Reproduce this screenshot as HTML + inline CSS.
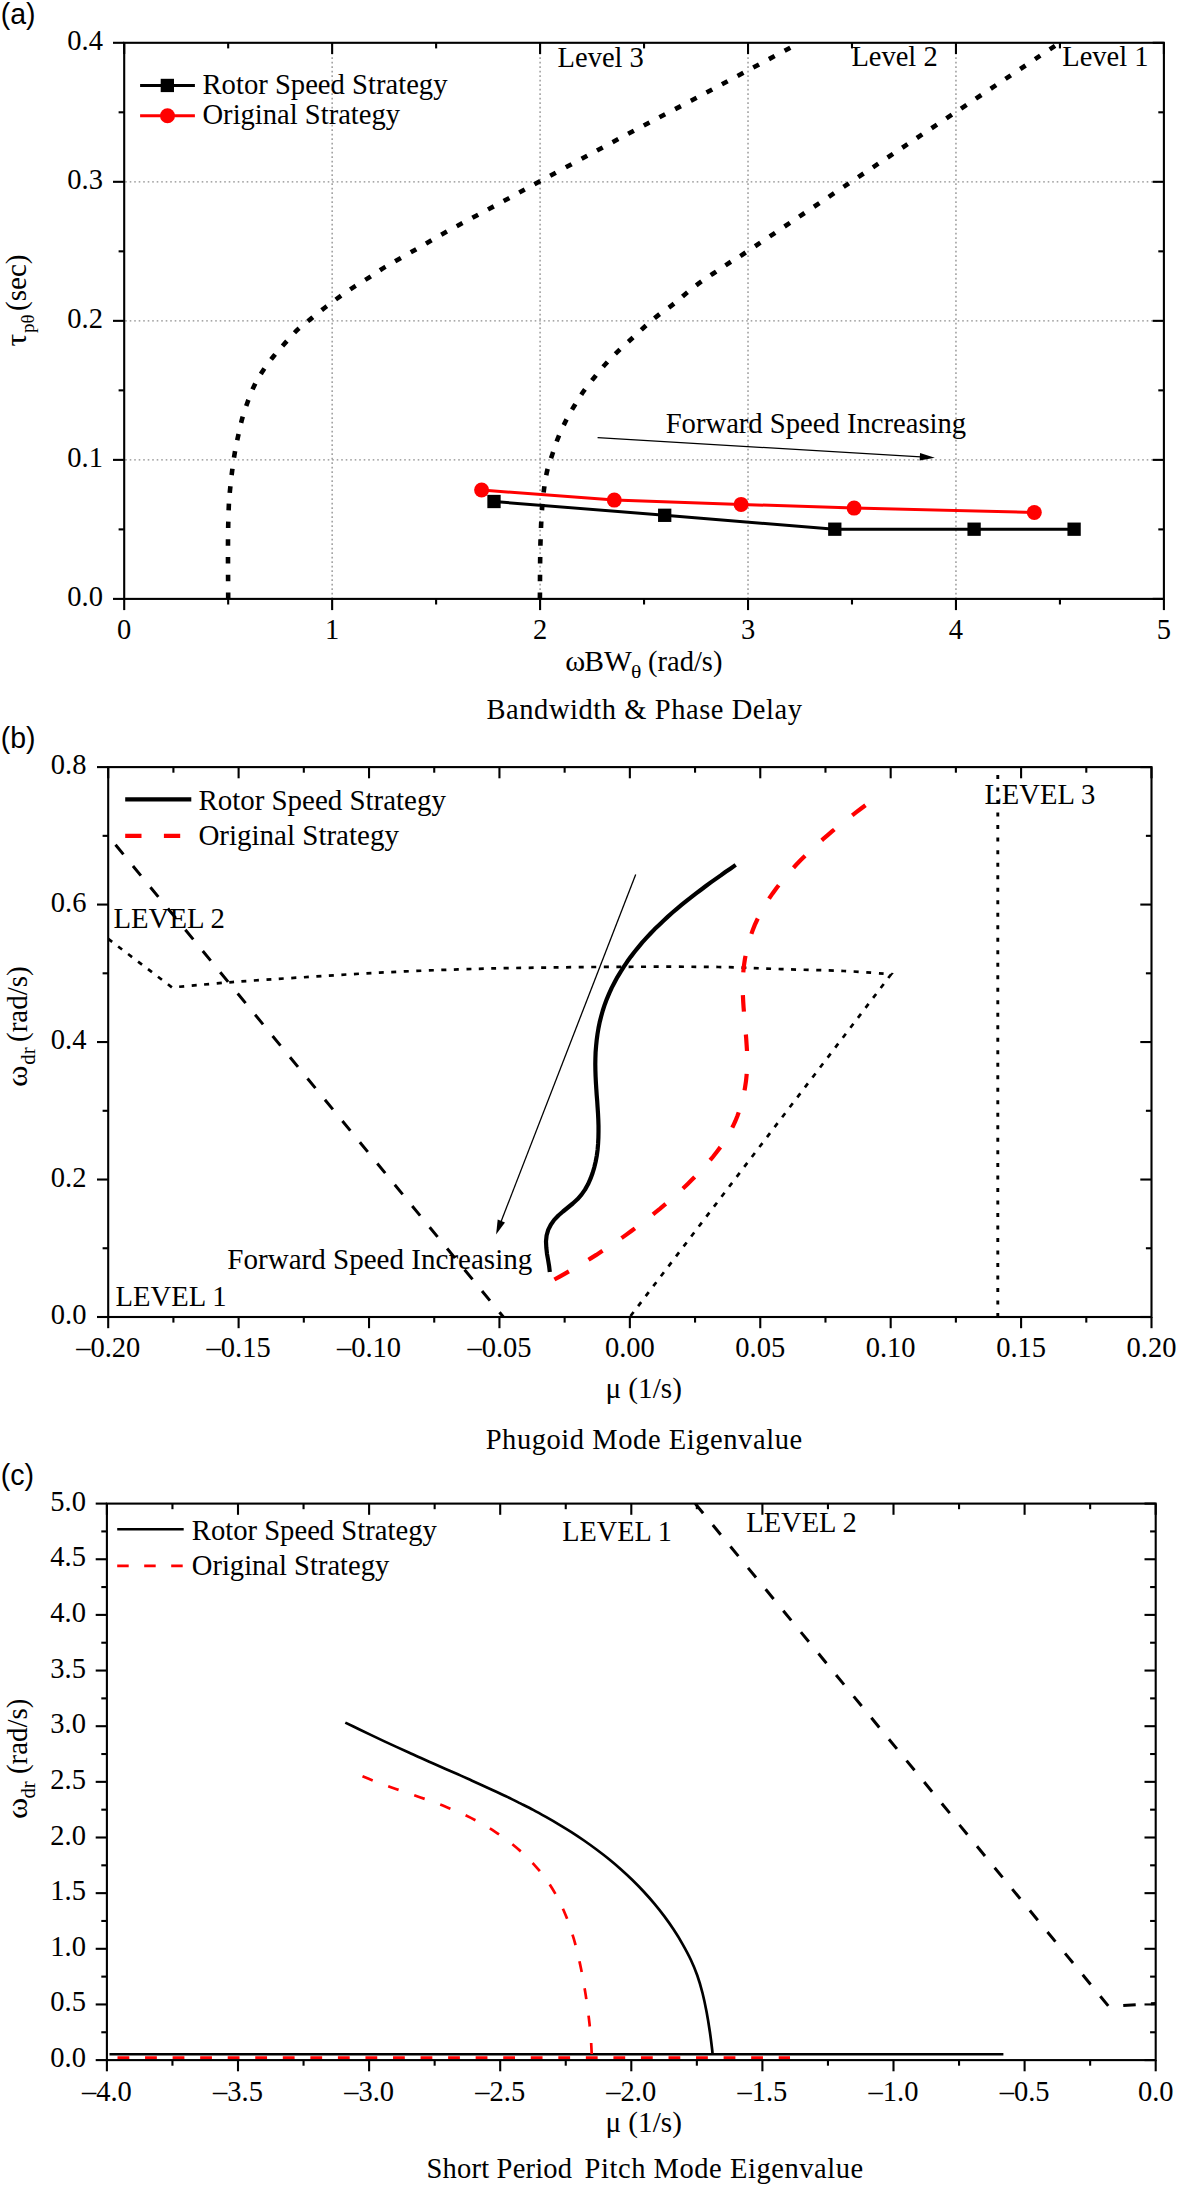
<!DOCTYPE html><html><head><meta charset="utf-8"><style>html,body{margin:0;padding:0;background:#fff;overflow:hidden;width:1179px;height:2188px;}svg{display:block;}</style></head><body>
<svg width="1179" height="2188" viewBox="0 0 1179 2188">
<rect width="1179" height="2188" fill="#fff"/>
<defs><clipPath id="ca"><rect x="124.2" y="42.8" width="1039.7" height="556.1"/></clipPath>
<clipPath id="cb"><rect x="108.2" y="767.1" width="1043.3" height="549.9"/></clipPath>
<clipPath id="cc"><rect x="106.9" y="1503.6" width="1048.8" height="556.5"/></clipPath></defs>
<line x1="332.14" y1="43.8" x2="332.14" y2="597.9" stroke="#8c8c8c" stroke-width="1.3" stroke-dasharray="1.6 2.9"/>
<line x1="540.08" y1="43.8" x2="540.08" y2="597.9" stroke="#8c8c8c" stroke-width="1.3" stroke-dasharray="1.6 2.9"/>
<line x1="748.02" y1="43.8" x2="748.02" y2="597.9" stroke="#8c8c8c" stroke-width="1.3" stroke-dasharray="1.6 2.9"/>
<line x1="955.96" y1="43.8" x2="955.96" y2="597.9" stroke="#8c8c8c" stroke-width="1.3" stroke-dasharray="1.6 2.9"/>
<line x1="125.2" y1="459.88" x2="1162.9" y2="459.88" stroke="#8c8c8c" stroke-width="1.3" stroke-dasharray="1.6 2.9"/>
<line x1="125.2" y1="320.85" x2="1162.9" y2="320.85" stroke="#8c8c8c" stroke-width="1.3" stroke-dasharray="1.6 2.9"/>
<line x1="125.2" y1="181.82" x2="1162.9" y2="181.82" stroke="#8c8c8c" stroke-width="1.3" stroke-dasharray="1.6 2.9"/>
<path d="M228.2 598.9 C228.17 589.38 227.9 557.27 228 541.8 C228.1 526.33 228.43 515.02 228.8 506.1 C229.17 497.18 229.63 494.23 230.2 488.3 C230.77 482.37 231.43 476.43 232.2 470.5 C232.97 464.57 233.8 458.5 234.8 452.7 C235.8 446.9 236.93 441.5 238.2 435.7 C239.47 429.9 240.77 423.68 242.4 417.9 C244.03 412.12 245.97 406.5 248 401 C250.03 395.5 252.08 390 254.6 384.9 C257.12 379.8 259.9 375.22 263.1 370.4 C266.3 365.58 270.03 360.67 273.8 356 C277.57 351.33 281.6 346.92 285.7 342.4 C289.8 337.88 294.02 332.98 298.4 328.9 C302.78 324.82 307.33 321.63 312 317.9 C316.67 314.17 321.65 310.13 326.4 306.5 C331.15 302.87 335.7 299.5 340.5 296.1 C345.3 292.7 350.2 289.35 355.2 286.1 C360.2 282.85 365.48 279.8 370.5 276.6 C375.52 273.4 377.73 271.43 385.3 266.9 C392.87 262.37 405.72 255.25 415.9 249.4 C426.08 243.55 436.1 237.53 446.4 231.8 C456.7 226.07 467.27 220.6 477.7 215 C488.13 209.4 498.7 203.78 509 198.2 C519.3 192.62 526 188.82 539.5 181.5 C553 174.18 573.25 163.3 590 154.3 C606.75 145.3 623.17 136.42 640 127.5 C656.83 118.58 673.92 109.83 691 100.8 C708.08 91.77 724.33 83.02 742.5 73.3 C760.67 63.58 790.42 47.63 800 42.5" fill="none" stroke="#000" stroke-width="4.6" stroke-dasharray="6.5 11.2" clip-path="url(#ca)"/>
<path d="M539.9 598.9 C539.98 589.95 539.98 560.93 540.4 545.2 C540.82 529.47 541.38 516.38 542.4 504.5 C543.42 492.62 544.8 482.38 546.5 473.9 C548.2 465.42 550.57 459.87 552.6 453.6 C554.63 447.33 556.33 442.07 558.7 436.3 C561.07 430.53 564.08 424.27 566.8 419 C569.52 413.73 572.12 409.45 575 404.7 C577.88 399.95 580.72 395.25 584.1 390.5 C587.48 385.75 591.57 380.78 595.3 376.2 C599.03 371.62 602.43 367.42 606.5 363 C610.57 358.58 615.28 353.95 619.7 349.7 C624.12 345.45 628.75 341.4 633 337.5 C637.25 333.6 640.97 330.03 645.2 326.3 C649.43 322.57 653.65 318.83 658.4 315.1 C663.15 311.37 668.95 307.63 673.7 303.9 C678.45 300.17 682.32 296.42 686.9 292.7 C691.48 288.98 696.28 285.15 701.2 281.6 C706.12 278.05 711.32 274.8 716.4 271.4 C721.48 268 726.52 264.55 731.7 261.2 C736.88 257.85 727.78 264.4 747.5 251.3 C767.22 238.2 815.9 205.4 850 182.6 C884.1 159.8 917.1 137.85 952.1 114.5 C987.1 91.15 1042.02 54.5 1060 42.5" fill="none" stroke="#000" stroke-width="4.6" stroke-dasharray="6.5 11.2" clip-path="url(#ca)"/>
<path d="M494 501.5 L664.7 515.3 L834.8 529.2 L974.1 529.2 L1074.1 529.2" fill="none" stroke="#000" stroke-width="3"/>
<path d="M481.6 490 L614.3 500.1 L741.1 504.4 L854.1 508.1 L1034.3 512.5" fill="none" stroke="#ff0000" stroke-width="3"/>
<rect x="487.35" y="494.85" width="13.3" height="13.3" fill="#000"/>
<rect x="658.05" y="508.65" width="13.3" height="13.3" fill="#000"/>
<rect x="828.15" y="522.55" width="13.3" height="13.3" fill="#000"/>
<rect x="967.45" y="522.55" width="13.3" height="13.3" fill="#000"/>
<rect x="1067.45" y="522.55" width="13.3" height="13.3" fill="#000"/>
<circle cx="481.6" cy="490" r="7.5" fill="#ff0000"/>
<circle cx="614.3" cy="500.1" r="7.5" fill="#ff0000"/>
<circle cx="741.1" cy="504.4" r="7.5" fill="#ff0000"/>
<circle cx="854.1" cy="508.1" r="7.5" fill="#ff0000"/>
<circle cx="1034.3" cy="512.5" r="7.5" fill="#ff0000"/>
<line x1="597.6" y1="437.7" x2="925" y2="457.1" stroke="#000" stroke-width="1.3" />
<path d="M934.8 457.7 L919.6 460.61 L920.05 453.02 Z" fill="#000"/>
<line x1="124.2" y1="598.9" x2="124.2" y2="610.1" stroke="#000" stroke-width="2.1" />
<line x1="124.2" y1="42.8" x2="124.2" y2="54" stroke="#000" stroke-width="2.1" />
<line x1="228.17" y1="598.9" x2="228.17" y2="604.5" stroke="#000" stroke-width="2.1" />
<line x1="228.17" y1="42.8" x2="228.17" y2="48.4" stroke="#000" stroke-width="2.1" />
<line x1="332.14" y1="598.9" x2="332.14" y2="610.1" stroke="#000" stroke-width="2.1" />
<line x1="332.14" y1="42.8" x2="332.14" y2="54" stroke="#000" stroke-width="2.1" />
<line x1="436.11" y1="598.9" x2="436.11" y2="604.5" stroke="#000" stroke-width="2.1" />
<line x1="436.11" y1="42.8" x2="436.11" y2="48.4" stroke="#000" stroke-width="2.1" />
<line x1="540.08" y1="598.9" x2="540.08" y2="610.1" stroke="#000" stroke-width="2.1" />
<line x1="540.08" y1="42.8" x2="540.08" y2="54" stroke="#000" stroke-width="2.1" />
<line x1="644.05" y1="598.9" x2="644.05" y2="604.5" stroke="#000" stroke-width="2.1" />
<line x1="644.05" y1="42.8" x2="644.05" y2="48.4" stroke="#000" stroke-width="2.1" />
<line x1="748.02" y1="598.9" x2="748.02" y2="610.1" stroke="#000" stroke-width="2.1" />
<line x1="748.02" y1="42.8" x2="748.02" y2="54" stroke="#000" stroke-width="2.1" />
<line x1="851.99" y1="598.9" x2="851.99" y2="604.5" stroke="#000" stroke-width="2.1" />
<line x1="851.99" y1="42.8" x2="851.99" y2="48.4" stroke="#000" stroke-width="2.1" />
<line x1="955.96" y1="598.9" x2="955.96" y2="610.1" stroke="#000" stroke-width="2.1" />
<line x1="955.96" y1="42.8" x2="955.96" y2="54" stroke="#000" stroke-width="2.1" />
<line x1="1059.93" y1="598.9" x2="1059.93" y2="604.5" stroke="#000" stroke-width="2.1" />
<line x1="1059.93" y1="42.8" x2="1059.93" y2="48.4" stroke="#000" stroke-width="2.1" />
<line x1="1163.9" y1="598.9" x2="1163.9" y2="610.1" stroke="#000" stroke-width="2.1" />
<line x1="1163.9" y1="42.8" x2="1163.9" y2="54" stroke="#000" stroke-width="2.1" />
<line x1="113" y1="598.9" x2="124.2" y2="598.9" stroke="#000" stroke-width="2.1" />
<line x1="1152.7" y1="598.9" x2="1163.9" y2="598.9" stroke="#000" stroke-width="2.1" />
<line x1="118.6" y1="529.39" x2="124.2" y2="529.39" stroke="#000" stroke-width="2.1" />
<line x1="1158.3" y1="529.39" x2="1163.9" y2="529.39" stroke="#000" stroke-width="2.1" />
<line x1="113" y1="459.88" x2="124.2" y2="459.88" stroke="#000" stroke-width="2.1" />
<line x1="1152.7" y1="459.88" x2="1163.9" y2="459.88" stroke="#000" stroke-width="2.1" />
<line x1="118.6" y1="390.36" x2="124.2" y2="390.36" stroke="#000" stroke-width="2.1" />
<line x1="1158.3" y1="390.36" x2="1163.9" y2="390.36" stroke="#000" stroke-width="2.1" />
<line x1="113" y1="320.85" x2="124.2" y2="320.85" stroke="#000" stroke-width="2.1" />
<line x1="1152.7" y1="320.85" x2="1163.9" y2="320.85" stroke="#000" stroke-width="2.1" />
<line x1="118.6" y1="251.34" x2="124.2" y2="251.34" stroke="#000" stroke-width="2.1" />
<line x1="1158.3" y1="251.34" x2="1163.9" y2="251.34" stroke="#000" stroke-width="2.1" />
<line x1="113" y1="181.82" x2="124.2" y2="181.82" stroke="#000" stroke-width="2.1" />
<line x1="1152.7" y1="181.82" x2="1163.9" y2="181.82" stroke="#000" stroke-width="2.1" />
<line x1="118.6" y1="112.31" x2="124.2" y2="112.31" stroke="#000" stroke-width="2.1" />
<line x1="1158.3" y1="112.31" x2="1163.9" y2="112.31" stroke="#000" stroke-width="2.1" />
<line x1="113" y1="42.8" x2="124.2" y2="42.8" stroke="#000" stroke-width="2.1" />
<line x1="1152.7" y1="42.8" x2="1163.9" y2="42.8" stroke="#000" stroke-width="2.1" />
<rect x="124.2" y="42.8" width="1039.7" height="556.1" fill="none" stroke="#000" stroke-width="2.1"/>
<text x="124.2" y="638.6" font-size="28.5" text-anchor="middle" font-family='"Liberation Serif", serif' >0</text>
<text x="332.14" y="638.6" font-size="28.5" text-anchor="middle" font-family='"Liberation Serif", serif' >1</text>
<text x="540.08" y="638.6" font-size="28.5" text-anchor="middle" font-family='"Liberation Serif", serif' >2</text>
<text x="748.02" y="638.6" font-size="28.5" text-anchor="middle" font-family='"Liberation Serif", serif' >3</text>
<text x="955.96" y="638.6" font-size="28.5" text-anchor="middle" font-family='"Liberation Serif", serif' >4</text>
<text x="1163.9" y="638.6" font-size="28.5" text-anchor="middle" font-family='"Liberation Serif", serif' >5</text>
<text x="102.9" y="605.9" font-size="28.5" text-anchor="end" font-family='"Liberation Serif", serif' >0.0</text>
<text x="102.9" y="466.88" font-size="28.5" text-anchor="end" font-family='"Liberation Serif", serif' >0.1</text>
<text x="102.9" y="327.85" font-size="28.5" text-anchor="end" font-family='"Liberation Serif", serif' >0.2</text>
<text x="102.9" y="188.82" font-size="28.5" text-anchor="end" font-family='"Liberation Serif", serif' >0.3</text>
<text x="102.9" y="49.8" font-size="28.5" text-anchor="end" font-family='"Liberation Serif", serif' >0.4</text>
<line x1="140.1" y1="85.5" x2="194.9" y2="85.5" stroke="#000" stroke-width="3" />
<rect x="160.7" y="78.8" width="13.3" height="13.3" fill="#000"/>
<line x1="140.1" y1="115.8" x2="194.9" y2="115.8" stroke="#ff0000" stroke-width="3" />
<circle cx="167.5" cy="115.7" r="7.5" fill="#ff0000"/>
<text x="202.5" y="93.6" font-size="28.5" text-anchor="start" font-family='"Liberation Serif", serif' textLength="245" lengthAdjust="spacingAndGlyphs" >Rotor Speed Strategy</text>
<text x="202.5" y="124.3" font-size="28.5" text-anchor="start" font-family='"Liberation Serif", serif' textLength="197.5" lengthAdjust="spacingAndGlyphs" >Original Strategy</text>
<text x="557.6" y="67.3" font-size="28.5" text-anchor="start" font-family='"Liberation Serif", serif' >Level 3</text>
<text x="851.4" y="66.4" font-size="28.5" text-anchor="start" font-family='"Liberation Serif", serif' >Level 2</text>
<text x="1062.3" y="66.4" font-size="28.5" text-anchor="start" font-family='"Liberation Serif", serif' >Level 1</text>
<text x="665.7" y="432.9" font-size="28.5" text-anchor="start" font-family='"Liberation Serif", serif' textLength="300.5" lengthAdjust="spacingAndGlyphs" >Forward Speed Increasing</text>
<text x="565.3" y="670.8" font-size="28.5" text-anchor="start" font-family='"Liberation Serif", serif' textLength="20" lengthAdjust="spacingAndGlyphs" >&#969;</text>
<text x="584.3" y="670.8" font-size="28.5" text-anchor="start" font-family='"Liberation Serif", serif' textLength="47.6" lengthAdjust="spacingAndGlyphs" >BW</text>
<text x="631" y="677.6" font-size="19.5" text-anchor="start" font-family='"Liberation Serif", serif' textLength="10.4" lengthAdjust="spacingAndGlyphs" >&#952;</text>
<text x="648" y="670.8" font-size="28.5" text-anchor="start" font-family='"Liberation Serif", serif' textLength="74.4" lengthAdjust="spacingAndGlyphs" >(rad/s)</text>
<text x="486.5" y="718.8" font-size="28.5" text-anchor="start" font-family='"Liberation Serif", serif' textLength="315.5" lengthAdjust="spacing" >Bandwidth &amp; Phase Delay</text>
<g transform="translate(26.3 346.5) rotate(-90)">
<text x="0" y="0" font-size="29.5" font-family='"Liberation Serif", serif' textLength="12.6" lengthAdjust="spacingAndGlyphs">&#964;</text>
<text x="13.6" y="7.7" font-size="19.5" font-family='"Liberation Serif", serif' textLength="18.6" lengthAdjust="spacingAndGlyphs">p&#952;</text>
<text x="35.6" y="0" font-size="29.5" font-family='"Liberation Serif", serif' textLength="56.4" lengthAdjust="spacingAndGlyphs">(sec)</text>
</g>
<text x="0.8" y="23.6" font-size="29" text-anchor="start" font-family='"Liberation Sans", sans-serif' textLength="34.8" lengthAdjust="spacingAndGlyphs" >(a)</text>
<path d="M108.2 835.8 L503.4 1317" fill="none" stroke="#000" stroke-width="3" stroke-dasharray="12.5 15" stroke-dashoffset="-11.5" clip-path="url(#cb)"/>
<path d="M108.2 938.9 L172 987.4  C182.03 986.52 210.67 983.77 232.2 982.1 C253.73 980.43 276.62 978.98 301.2 977.4 C325.78 975.82 353.55 973.93 379.7 972.6 C405.85 971.27 433.52 970.2 458.1 969.4 C482.68 968.6 499.53 968.23 527.2 967.8 C554.87 967.37 592.25 966.93 624.1 966.8 C655.95 966.67 692.15 966.62 718.3 967 C744.45 967.38 760.08 968.43 781 969.1 C801.92 969.77 825.43 970.15 843.8 971 C862.17 971.85 883.3 973.67 891.2 974.2 L629.8 1317" fill="none" stroke="#000" stroke-width="2.7" stroke-dasharray="5 7.5" clip-path="url(#cb)"/>
<path d="M997.8 1317 L997.8 767.1" fill="none" stroke="#000" stroke-width="2.9" stroke-dasharray="4 8.51" clip-path="url(#cb)"/>
<path d="M549.8 1271.9 L549.1 1266.1 L548.1 1260 L547 1253.8 L546.3 1247.5 L546 1241.4 L546.6 1235.5 L548.2 1229.9 L550.8 1224.7 L554.2 1219.9 L558.4 1215.5 L563 1211.5 L567.9 1207.5 L572.8 1203.5 L577.4 1199.3 L581.5 1194.6 L585 1189.6 L588 1184.3 L590.5 1178.7 L592.6 1173 L594.3 1167.3 L595.7 1161.5 L596.8 1155.6 L597.6 1149.7 L598.1 1143.7 L598.4 1137.7 L598.5 1131.7 L598.5 1125.6 L598.3 1119.5 L598 1113.4 L597.6 1107.3 L597.2 1101.1 L596.7 1095 L596.3 1088.8 L595.9 1082.7 L595.6 1076.5 L595.4 1070.4 L595.3 1064.3 L595.4 1058.2 L595.6 1052.1 L596.1 1046 L596.7 1040 L597.5 1034 L598.5 1028 L599.7 1022.1 L601.2 1016.3 L602.8 1010.5 L604.7 1004.7 L606.8 999.1 L609.2 993.4 L611.7 987.9 L614.5 982.5 L617.4 977.1 L620.6 971.8 L623.9 966.7 L627.3 961.6 L630.9 956.6 L634.6 951.8 L638.4 947.1 L642.3 942.4 L646.4 937.9 L650.5 933.5 L654.7 929.1 L659.1 924.9 L663.5 920.7 L667.9 916.6 L672.5 912.5 L677.1 908.6 L681.8 904.7 L686.5 900.9 L691.3 897.1 L696.1 893.4 L701 889.7 L705.9 886 L710.8 882.4 L715.8 878.9 L720.8 875.4 L725.7 871.8 L730.7 868.4 L735.7 864.9" fill="none" stroke="#000" stroke-width="4.2" stroke-linejoin="round"/>
<path d="M554.4 1279.5 L559.7 1276.6 L565 1273.6 L570.3 1270.6 L575.6 1267.5 L580.8 1264.4 L586 1261.3 L591.1 1258.1 L596.3 1254.9 L601.4 1251.6 L606.4 1248.3 L611.5 1244.9 L616.5 1241.5 L621.5 1238.1 L626.4 1234.6 L631.3 1231 L636.2 1227.4 L641.1 1223.8 L645.9 1220 L650.7 1216.3 L655.4 1212.4 L660.1 1208.6 L664.8 1204.6 L669.5 1200.6 L674.1 1196.5 L678.6 1192.4 L683.2 1188.2 L687.7 1183.9 L692.1 1179.6 L696.5 1175.2 L700.8 1170.7 L705 1166.2 L709 1161.5 L713 1156.8 L716.7 1152 L720.4 1147.1 L723.8 1142.1 L727 1137 L730 1131.9 L732.8 1126.6 L735.3 1121.2 L737.5 1115.7 L739.5 1110.1 L741.3 1104.5 L742.8 1098.7 L744.1 1092.9 L745.1 1087.1 L746 1081.1 L746.6 1075.1 L747 1069.1 L747.2 1063.1 L747.1 1057 L747 1050.8 L746.6 1044.7 L746.2 1038.6 L745.7 1032.4 L745.2 1026.2 L744.6 1020 L744.1 1013.9 L743.6 1007.7 L743.2 1001.5 L742.9 995.4 L742.7 989.3 L742.7 983.2 L742.9 977.2 L743.4 971.1 L744 965.2 L744.9 959.2 L746 953.4 L747.3 947.5 L748.9 941.8 L750.6 936.1 L752.6 930.5 L754.8 924.9 L757.3 919.5 L760 914.1 L762.8 908.8 L765.9 903.6 L769.2 898.4 L772.6 893.4 L776.2 888.4 L780 883.5 L783.9 878.7 L787.9 874 L792 869.4 L796.2 864.8 L800.5 860.3 L804.9 856 L809.4 851.6 L813.9 847.4 L818.4 843.2 L823 839.2 L827.7 835.1 L832.3 831.2 L837 827.3 L841.8 823.5 L846.5 819.8 L851.2 816.1 L856 812.4 L860.8 808.8 L865.5 805.3" fill="none" stroke="#ff0000" stroke-width="4.2" stroke-dasharray="16.6 22.84"/>
<line x1="635.7" y1="874.4" x2="500.6" y2="1222.8" stroke="#000" stroke-width="1.3" />
<path d="M496.1 1234.5 L497.7 1219.57 L504.98 1222.39 Z" fill="#000"/>
<line x1="108.2" y1="1317" x2="108.2" y2="1328.2" stroke="#000" stroke-width="2.1" />
<line x1="108.2" y1="767.1" x2="108.2" y2="778.3" stroke="#000" stroke-width="2.1" />
<line x1="173.41" y1="1317" x2="173.41" y2="1322.6" stroke="#000" stroke-width="2.1" />
<line x1="173.41" y1="767.1" x2="173.41" y2="772.7" stroke="#000" stroke-width="2.1" />
<line x1="238.61" y1="1317" x2="238.61" y2="1328.2" stroke="#000" stroke-width="2.1" />
<line x1="238.61" y1="767.1" x2="238.61" y2="778.3" stroke="#000" stroke-width="2.1" />
<line x1="303.82" y1="1317" x2="303.82" y2="1322.6" stroke="#000" stroke-width="2.1" />
<line x1="303.82" y1="767.1" x2="303.82" y2="772.7" stroke="#000" stroke-width="2.1" />
<line x1="369.02" y1="1317" x2="369.02" y2="1328.2" stroke="#000" stroke-width="2.1" />
<line x1="369.02" y1="767.1" x2="369.02" y2="778.3" stroke="#000" stroke-width="2.1" />
<line x1="434.23" y1="1317" x2="434.23" y2="1322.6" stroke="#000" stroke-width="2.1" />
<line x1="434.23" y1="767.1" x2="434.23" y2="772.7" stroke="#000" stroke-width="2.1" />
<line x1="499.44" y1="1317" x2="499.44" y2="1328.2" stroke="#000" stroke-width="2.1" />
<line x1="499.44" y1="767.1" x2="499.44" y2="778.3" stroke="#000" stroke-width="2.1" />
<line x1="564.64" y1="1317" x2="564.64" y2="1322.6" stroke="#000" stroke-width="2.1" />
<line x1="564.64" y1="767.1" x2="564.64" y2="772.7" stroke="#000" stroke-width="2.1" />
<line x1="629.85" y1="1317" x2="629.85" y2="1328.2" stroke="#000" stroke-width="2.1" />
<line x1="629.85" y1="767.1" x2="629.85" y2="778.3" stroke="#000" stroke-width="2.1" />
<line x1="695.06" y1="1317" x2="695.06" y2="1322.6" stroke="#000" stroke-width="2.1" />
<line x1="695.06" y1="767.1" x2="695.06" y2="772.7" stroke="#000" stroke-width="2.1" />
<line x1="760.26" y1="1317" x2="760.26" y2="1328.2" stroke="#000" stroke-width="2.1" />
<line x1="760.26" y1="767.1" x2="760.26" y2="778.3" stroke="#000" stroke-width="2.1" />
<line x1="825.47" y1="1317" x2="825.47" y2="1322.6" stroke="#000" stroke-width="2.1" />
<line x1="825.47" y1="767.1" x2="825.47" y2="772.7" stroke="#000" stroke-width="2.1" />
<line x1="890.68" y1="1317" x2="890.68" y2="1328.2" stroke="#000" stroke-width="2.1" />
<line x1="890.68" y1="767.1" x2="890.68" y2="778.3" stroke="#000" stroke-width="2.1" />
<line x1="955.88" y1="1317" x2="955.88" y2="1322.6" stroke="#000" stroke-width="2.1" />
<line x1="955.88" y1="767.1" x2="955.88" y2="772.7" stroke="#000" stroke-width="2.1" />
<line x1="1021.09" y1="1317" x2="1021.09" y2="1328.2" stroke="#000" stroke-width="2.1" />
<line x1="1021.09" y1="767.1" x2="1021.09" y2="778.3" stroke="#000" stroke-width="2.1" />
<line x1="1086.29" y1="1317" x2="1086.29" y2="1322.6" stroke="#000" stroke-width="2.1" />
<line x1="1086.29" y1="767.1" x2="1086.29" y2="772.7" stroke="#000" stroke-width="2.1" />
<line x1="1151.5" y1="1317" x2="1151.5" y2="1328.2" stroke="#000" stroke-width="2.1" />
<line x1="1151.5" y1="767.1" x2="1151.5" y2="778.3" stroke="#000" stroke-width="2.1" />
<line x1="97" y1="1317" x2="108.2" y2="1317" stroke="#000" stroke-width="2.1" />
<line x1="1140.3" y1="1317" x2="1151.5" y2="1317" stroke="#000" stroke-width="2.1" />
<line x1="102.6" y1="1248.26" x2="108.2" y2="1248.26" stroke="#000" stroke-width="2.1" />
<line x1="1145.9" y1="1248.26" x2="1151.5" y2="1248.26" stroke="#000" stroke-width="2.1" />
<line x1="97" y1="1179.53" x2="108.2" y2="1179.53" stroke="#000" stroke-width="2.1" />
<line x1="1140.3" y1="1179.53" x2="1151.5" y2="1179.53" stroke="#000" stroke-width="2.1" />
<line x1="102.6" y1="1110.79" x2="108.2" y2="1110.79" stroke="#000" stroke-width="2.1" />
<line x1="1145.9" y1="1110.79" x2="1151.5" y2="1110.79" stroke="#000" stroke-width="2.1" />
<line x1="97" y1="1042.05" x2="108.2" y2="1042.05" stroke="#000" stroke-width="2.1" />
<line x1="1140.3" y1="1042.05" x2="1151.5" y2="1042.05" stroke="#000" stroke-width="2.1" />
<line x1="102.6" y1="973.31" x2="108.2" y2="973.31" stroke="#000" stroke-width="2.1" />
<line x1="1145.9" y1="973.31" x2="1151.5" y2="973.31" stroke="#000" stroke-width="2.1" />
<line x1="97" y1="904.57" x2="108.2" y2="904.57" stroke="#000" stroke-width="2.1" />
<line x1="1140.3" y1="904.57" x2="1151.5" y2="904.57" stroke="#000" stroke-width="2.1" />
<line x1="102.6" y1="835.84" x2="108.2" y2="835.84" stroke="#000" stroke-width="2.1" />
<line x1="1145.9" y1="835.84" x2="1151.5" y2="835.84" stroke="#000" stroke-width="2.1" />
<line x1="97" y1="767.1" x2="108.2" y2="767.1" stroke="#000" stroke-width="2.1" />
<line x1="1140.3" y1="767.1" x2="1151.5" y2="767.1" stroke="#000" stroke-width="2.1" />
<rect x="108.2" y="767.1" width="1043.3" height="549.9" fill="none" stroke="#000" stroke-width="2.1"/>
<text x="108.2" y="1356.7" font-size="28.5" text-anchor="middle" font-family='"Liberation Serif", serif' >&#8211;0.20</text>
<text x="238.61" y="1356.7" font-size="28.5" text-anchor="middle" font-family='"Liberation Serif", serif' >&#8211;0.15</text>
<text x="369.02" y="1356.7" font-size="28.5" text-anchor="middle" font-family='"Liberation Serif", serif' >&#8211;0.10</text>
<text x="499.44" y="1356.7" font-size="28.5" text-anchor="middle" font-family='"Liberation Serif", serif' >&#8211;0.05</text>
<text x="629.85" y="1356.7" font-size="28.5" text-anchor="middle" font-family='"Liberation Serif", serif' >0.00</text>
<text x="760.26" y="1356.7" font-size="28.5" text-anchor="middle" font-family='"Liberation Serif", serif' >0.05</text>
<text x="890.68" y="1356.7" font-size="28.5" text-anchor="middle" font-family='"Liberation Serif", serif' >0.10</text>
<text x="1021.09" y="1356.7" font-size="28.5" text-anchor="middle" font-family='"Liberation Serif", serif' >0.15</text>
<text x="1151.5" y="1356.7" font-size="28.5" text-anchor="middle" font-family='"Liberation Serif", serif' >0.20</text>
<text x="86.4" y="1324" font-size="28.5" text-anchor="end" font-family='"Liberation Serif", serif' >0.0</text>
<text x="86.4" y="1186.53" font-size="28.5" text-anchor="end" font-family='"Liberation Serif", serif' >0.2</text>
<text x="86.4" y="1049.05" font-size="28.5" text-anchor="end" font-family='"Liberation Serif", serif' >0.4</text>
<text x="86.4" y="911.58" font-size="28.5" text-anchor="end" font-family='"Liberation Serif", serif' >0.6</text>
<text x="86.4" y="774.1" font-size="28.5" text-anchor="end" font-family='"Liberation Serif", serif' >0.8</text>
<line x1="125.2" y1="799.3" x2="191.3" y2="799.3" stroke="#000" stroke-width="4.2" />
<line x1="125.2" y1="835.9" x2="191.3" y2="835.9" stroke="#ff0000" stroke-width="4.2" stroke-dasharray="16.3 22.4"/>
<text x="198.4" y="809.8" font-size="28.8" text-anchor="start" font-family='"Liberation Serif", serif' textLength="247.5" lengthAdjust="spacingAndGlyphs" >Rotor Speed Strategy</text>
<text x="198.4" y="845.3" font-size="28.8" text-anchor="start" font-family='"Liberation Serif", serif' textLength="200.5" lengthAdjust="spacingAndGlyphs" >Original Strategy</text>
<text x="113.5" y="928.3" font-size="28.5" text-anchor="start" font-family='"Liberation Serif", serif' textLength="111.5" lengthAdjust="spacingAndGlyphs" >LEVEL 2</text>
<text x="984.4" y="803.9" font-size="28.5" text-anchor="start" font-family='"Liberation Serif", serif' textLength="111" lengthAdjust="spacingAndGlyphs" >LEVEL 3</text>
<text x="115.6" y="1306.1" font-size="28.5" text-anchor="start" font-family='"Liberation Serif", serif' textLength="111" lengthAdjust="spacingAndGlyphs" >LEVEL 1</text>
<text x="227.3" y="1269" font-size="28.5" text-anchor="start" font-family='"Liberation Serif", serif' textLength="305" lengthAdjust="spacingAndGlyphs" >Forward Speed Increasing</text>
<text x="605.4" y="1397.5" font-size="28.5" text-anchor="start" font-family='"Liberation Serif", serif' textLength="76.5" lengthAdjust="spacingAndGlyphs" >&#956; (1/s)</text>
<text x="485.7" y="1449.4" font-size="28.5" text-anchor="start" font-family='"Liberation Serif", serif' textLength="316.4" lengthAdjust="spacing" >Phugoid Mode Eigenvalue</text>
<g transform="translate(26.6 1087) rotate(-90)">
<text x="0" y="0" font-size="29" font-family='"Liberation Serif", serif' textLength="21.6" lengthAdjust="spacingAndGlyphs">&#969;</text>
<text x="22.3" y="8.4" font-size="20.5" font-family='"Liberation Serif", serif' textLength="17.4" lengthAdjust="spacingAndGlyphs">dr</text>
<text x="45" y="0" font-size="29" font-family='"Liberation Serif", serif' textLength="75.6" lengthAdjust="spacingAndGlyphs">(rad/s)</text>
</g>
<text x="0.8" y="747.9" font-size="29" text-anchor="start" font-family='"Liberation Sans", sans-serif' textLength="34.8" lengthAdjust="spacingAndGlyphs" >(b)</text>
<path d="M695.2 1503.6 L1108.6 2006.3 L1155.7 2003.5" fill="none" stroke="#000" stroke-width="3" stroke-dasharray="12.5 15.23" clip-path="url(#cc)"/>
<line x1="109.5" y1="2054.3" x2="1003.4" y2="2054.3" stroke="#000" stroke-width="2.5" />
<path d="M117.5 2057.7 L790 2057.7" fill="none" stroke="#ff0000" stroke-width="2.7" stroke-dasharray="11.8 15.75"/>
<path d="M345.3 1722.6 C347.5 1723.67 354.17 1726.92 358.5 1729 C362.83 1731.08 367.07 1733.08 371.3 1735.1 C375.53 1737.12 379.72 1739.13 383.9 1741.1 C388.08 1743.07 392.25 1745 396.4 1746.9 C400.55 1748.8 404.7 1750.63 408.8 1752.5 C412.9 1754.37 416.92 1756.27 421 1758.1 C425.08 1759.93 429.2 1761.7 433.3 1763.5 C437.4 1765.3 441.5 1767.1 445.6 1768.9 C449.7 1770.7 453.8 1772.48 457.9 1774.3 C462 1776.12 466.08 1777.95 470.2 1779.8 C474.32 1781.65 478.43 1783.5 482.6 1785.4 C486.77 1787.3 491 1789.25 495.2 1791.2 C499.4 1793.15 503.6 1795.07 507.8 1797.1 C512 1799.13 516.17 1801.27 520.4 1803.4 C524.63 1805.53 528.95 1807.65 533.2 1809.9 C537.45 1812.15 541.65 1814.5 545.9 1816.9 C550.15 1819.3 554.45 1821.77 558.7 1824.3 C562.95 1826.83 567.18 1829.4 571.4 1832.1 C575.62 1834.8 579.82 1837.6 584 1840.5 C588.18 1843.4 592.37 1846.42 596.5 1849.5 C600.63 1852.58 604.75 1855.72 608.8 1859 C612.85 1862.28 616.87 1865.7 620.8 1869.2 C624.73 1872.7 628.6 1876.28 632.4 1880 C636.2 1883.72 639.95 1887.57 643.6 1891.5 C647.25 1895.43 650.83 1899.45 654.3 1903.6 C657.77 1907.75 661.15 1912.03 664.4 1916.4 C667.65 1920.77 670.8 1925.23 673.8 1929.8 C676.8 1934.37 679.58 1938.85 682.4 1943.8 C685.22 1948.75 688.22 1954.22 690.7 1959.5 C693.18 1964.78 695.33 1969.92 697.3 1975.5 C699.27 1981.08 700.95 1986.92 702.5 1993 C704.05 1999.08 705.37 2005.5 706.6 2012 C707.83 2018.5 708.97 2025.67 709.9 2032 C710.83 2038.33 711.77 2046.28 712.2 2050 C712.63 2053.72 712.45 2053.58 712.5 2054.3" fill="none" stroke="#000" stroke-width="2.7"/>
<path d="M362.5 1776.3 L368.1 1778.6 L373.7 1780.8 L379.4 1783 L385.1 1785.1 L390.9 1787.2 L396.6 1789.2 L402.4 1791.2 L408.2 1793.2 L414 1795.2 L419.8 1797.2 L425.6 1799.2 L431.4 1801.3 L437.1 1803.4 L442.9 1805.6 L448.5 1807.9 L454.2 1810.2 L459.8 1812.7 L465.4 1815.2 L470.9 1817.9 L476.4 1820.7 L481.7 1823.7 L487.1 1826.7 L492.3 1829.9 L497.4 1833.3 L502.5 1836.7 L507.4 1840.3 L512.2 1844.1 L516.9 1848 L521.5 1852 L525.9 1856.1 L530.2 1860.4 L534.3 1864.8 L538.3 1869.3 L542.1 1874 L545.7 1878.8 L549.2 1883.7 L552.4 1888.8 L555.5 1894 L558.4 1899.3 L561.1 1904.7 L563.6 1910.3 L566 1915.9 L568.2 1921.6 L570.2 1927.4 L572.1 1933.3 L573.9 1939.2 L575.6 1945.2 L577.2 1951.2 L578.6 1957.3 L579.9 1963.4 L581.2 1969.5 L582.4 1975.5 L583.5 1981.6 L584.5 1987.7 L585.5 1993.7 L586.4 1999.7 L587.3 2005.7 L588.1 2011.7 L588.8 2017.7 L589.5 2023.6 L590.1 2029.6 L590.6 2035.7 L591.1 2041.7 L591.4 2047.8 L591.7 2054" fill="none" stroke="#ff0000" stroke-width="2.7" stroke-dasharray="11 16.57"/>
<line x1="106.9" y1="2060.1" x2="106.9" y2="2071.3" stroke="#000" stroke-width="2.1" />
<line x1="106.9" y1="1503.6" x2="106.9" y2="1514.8" stroke="#000" stroke-width="2.1" />
<line x1="172.45" y1="2060.1" x2="172.45" y2="2065.7" stroke="#000" stroke-width="2.1" />
<line x1="172.45" y1="1503.6" x2="172.45" y2="1509.2" stroke="#000" stroke-width="2.1" />
<line x1="238" y1="2060.1" x2="238" y2="2071.3" stroke="#000" stroke-width="2.1" />
<line x1="238" y1="1503.6" x2="238" y2="1514.8" stroke="#000" stroke-width="2.1" />
<line x1="303.55" y1="2060.1" x2="303.55" y2="2065.7" stroke="#000" stroke-width="2.1" />
<line x1="303.55" y1="1503.6" x2="303.55" y2="1509.2" stroke="#000" stroke-width="2.1" />
<line x1="369.1" y1="2060.1" x2="369.1" y2="2071.3" stroke="#000" stroke-width="2.1" />
<line x1="369.1" y1="1503.6" x2="369.1" y2="1514.8" stroke="#000" stroke-width="2.1" />
<line x1="434.65" y1="2060.1" x2="434.65" y2="2065.7" stroke="#000" stroke-width="2.1" />
<line x1="434.65" y1="1503.6" x2="434.65" y2="1509.2" stroke="#000" stroke-width="2.1" />
<line x1="500.2" y1="2060.1" x2="500.2" y2="2071.3" stroke="#000" stroke-width="2.1" />
<line x1="500.2" y1="1503.6" x2="500.2" y2="1514.8" stroke="#000" stroke-width="2.1" />
<line x1="565.75" y1="2060.1" x2="565.75" y2="2065.7" stroke="#000" stroke-width="2.1" />
<line x1="565.75" y1="1503.6" x2="565.75" y2="1509.2" stroke="#000" stroke-width="2.1" />
<line x1="631.3" y1="2060.1" x2="631.3" y2="2071.3" stroke="#000" stroke-width="2.1" />
<line x1="631.3" y1="1503.6" x2="631.3" y2="1514.8" stroke="#000" stroke-width="2.1" />
<line x1="696.85" y1="2060.1" x2="696.85" y2="2065.7" stroke="#000" stroke-width="2.1" />
<line x1="696.85" y1="1503.6" x2="696.85" y2="1509.2" stroke="#000" stroke-width="2.1" />
<line x1="762.4" y1="2060.1" x2="762.4" y2="2071.3" stroke="#000" stroke-width="2.1" />
<line x1="762.4" y1="1503.6" x2="762.4" y2="1514.8" stroke="#000" stroke-width="2.1" />
<line x1="827.95" y1="2060.1" x2="827.95" y2="2065.7" stroke="#000" stroke-width="2.1" />
<line x1="827.95" y1="1503.6" x2="827.95" y2="1509.2" stroke="#000" stroke-width="2.1" />
<line x1="893.5" y1="2060.1" x2="893.5" y2="2071.3" stroke="#000" stroke-width="2.1" />
<line x1="893.5" y1="1503.6" x2="893.5" y2="1514.8" stroke="#000" stroke-width="2.1" />
<line x1="959.05" y1="2060.1" x2="959.05" y2="2065.7" stroke="#000" stroke-width="2.1" />
<line x1="959.05" y1="1503.6" x2="959.05" y2="1509.2" stroke="#000" stroke-width="2.1" />
<line x1="1024.6" y1="2060.1" x2="1024.6" y2="2071.3" stroke="#000" stroke-width="2.1" />
<line x1="1024.6" y1="1503.6" x2="1024.6" y2="1514.8" stroke="#000" stroke-width="2.1" />
<line x1="1090.15" y1="2060.1" x2="1090.15" y2="2065.7" stroke="#000" stroke-width="2.1" />
<line x1="1090.15" y1="1503.6" x2="1090.15" y2="1509.2" stroke="#000" stroke-width="2.1" />
<line x1="1155.7" y1="2060.1" x2="1155.7" y2="2071.3" stroke="#000" stroke-width="2.1" />
<line x1="1155.7" y1="1503.6" x2="1155.7" y2="1514.8" stroke="#000" stroke-width="2.1" />
<line x1="95.7" y1="2060.1" x2="106.9" y2="2060.1" stroke="#000" stroke-width="2.1" />
<line x1="1144.5" y1="2060.1" x2="1155.7" y2="2060.1" stroke="#000" stroke-width="2.1" />
<line x1="101.3" y1="2032.27" x2="106.9" y2="2032.27" stroke="#000" stroke-width="2.1" />
<line x1="1150.1" y1="2032.27" x2="1155.7" y2="2032.27" stroke="#000" stroke-width="2.1" />
<line x1="95.7" y1="2004.45" x2="106.9" y2="2004.45" stroke="#000" stroke-width="2.1" />
<line x1="1144.5" y1="2004.45" x2="1155.7" y2="2004.45" stroke="#000" stroke-width="2.1" />
<line x1="101.3" y1="1976.62" x2="106.9" y2="1976.62" stroke="#000" stroke-width="2.1" />
<line x1="1150.1" y1="1976.62" x2="1155.7" y2="1976.62" stroke="#000" stroke-width="2.1" />
<line x1="95.7" y1="1948.8" x2="106.9" y2="1948.8" stroke="#000" stroke-width="2.1" />
<line x1="1144.5" y1="1948.8" x2="1155.7" y2="1948.8" stroke="#000" stroke-width="2.1" />
<line x1="101.3" y1="1920.97" x2="106.9" y2="1920.97" stroke="#000" stroke-width="2.1" />
<line x1="1150.1" y1="1920.97" x2="1155.7" y2="1920.97" stroke="#000" stroke-width="2.1" />
<line x1="95.7" y1="1893.15" x2="106.9" y2="1893.15" stroke="#000" stroke-width="2.1" />
<line x1="1144.5" y1="1893.15" x2="1155.7" y2="1893.15" stroke="#000" stroke-width="2.1" />
<line x1="101.3" y1="1865.32" x2="106.9" y2="1865.32" stroke="#000" stroke-width="2.1" />
<line x1="1150.1" y1="1865.32" x2="1155.7" y2="1865.32" stroke="#000" stroke-width="2.1" />
<line x1="95.7" y1="1837.5" x2="106.9" y2="1837.5" stroke="#000" stroke-width="2.1" />
<line x1="1144.5" y1="1837.5" x2="1155.7" y2="1837.5" stroke="#000" stroke-width="2.1" />
<line x1="101.3" y1="1809.67" x2="106.9" y2="1809.67" stroke="#000" stroke-width="2.1" />
<line x1="1150.1" y1="1809.67" x2="1155.7" y2="1809.67" stroke="#000" stroke-width="2.1" />
<line x1="95.7" y1="1781.85" x2="106.9" y2="1781.85" stroke="#000" stroke-width="2.1" />
<line x1="1144.5" y1="1781.85" x2="1155.7" y2="1781.85" stroke="#000" stroke-width="2.1" />
<line x1="101.3" y1="1754.02" x2="106.9" y2="1754.02" stroke="#000" stroke-width="2.1" />
<line x1="1150.1" y1="1754.02" x2="1155.7" y2="1754.02" stroke="#000" stroke-width="2.1" />
<line x1="95.7" y1="1726.2" x2="106.9" y2="1726.2" stroke="#000" stroke-width="2.1" />
<line x1="1144.5" y1="1726.2" x2="1155.7" y2="1726.2" stroke="#000" stroke-width="2.1" />
<line x1="101.3" y1="1698.38" x2="106.9" y2="1698.38" stroke="#000" stroke-width="2.1" />
<line x1="1150.1" y1="1698.38" x2="1155.7" y2="1698.38" stroke="#000" stroke-width="2.1" />
<line x1="95.7" y1="1670.55" x2="106.9" y2="1670.55" stroke="#000" stroke-width="2.1" />
<line x1="1144.5" y1="1670.55" x2="1155.7" y2="1670.55" stroke="#000" stroke-width="2.1" />
<line x1="101.3" y1="1642.72" x2="106.9" y2="1642.72" stroke="#000" stroke-width="2.1" />
<line x1="1150.1" y1="1642.72" x2="1155.7" y2="1642.72" stroke="#000" stroke-width="2.1" />
<line x1="95.7" y1="1614.9" x2="106.9" y2="1614.9" stroke="#000" stroke-width="2.1" />
<line x1="1144.5" y1="1614.9" x2="1155.7" y2="1614.9" stroke="#000" stroke-width="2.1" />
<line x1="101.3" y1="1587.07" x2="106.9" y2="1587.07" stroke="#000" stroke-width="2.1" />
<line x1="1150.1" y1="1587.07" x2="1155.7" y2="1587.07" stroke="#000" stroke-width="2.1" />
<line x1="95.7" y1="1559.25" x2="106.9" y2="1559.25" stroke="#000" stroke-width="2.1" />
<line x1="1144.5" y1="1559.25" x2="1155.7" y2="1559.25" stroke="#000" stroke-width="2.1" />
<line x1="101.3" y1="1531.42" x2="106.9" y2="1531.42" stroke="#000" stroke-width="2.1" />
<line x1="1150.1" y1="1531.42" x2="1155.7" y2="1531.42" stroke="#000" stroke-width="2.1" />
<line x1="95.7" y1="1503.6" x2="106.9" y2="1503.6" stroke="#000" stroke-width="2.1" />
<line x1="1144.5" y1="1503.6" x2="1155.7" y2="1503.6" stroke="#000" stroke-width="2.1" />
<rect x="106.9" y="1503.6" width="1048.8" height="556.5" fill="none" stroke="#000" stroke-width="2.1"/>
<text x="106.9" y="2101.1" font-size="28.5" text-anchor="middle" font-family='"Liberation Serif", serif' >&#8211;4.0</text>
<text x="238" y="2101.1" font-size="28.5" text-anchor="middle" font-family='"Liberation Serif", serif' >&#8211;3.5</text>
<text x="369.1" y="2101.1" font-size="28.5" text-anchor="middle" font-family='"Liberation Serif", serif' >&#8211;3.0</text>
<text x="500.2" y="2101.1" font-size="28.5" text-anchor="middle" font-family='"Liberation Serif", serif' >&#8211;2.5</text>
<text x="631.3" y="2101.1" font-size="28.5" text-anchor="middle" font-family='"Liberation Serif", serif' >&#8211;2.0</text>
<text x="762.4" y="2101.1" font-size="28.5" text-anchor="middle" font-family='"Liberation Serif", serif' >&#8211;1.5</text>
<text x="893.5" y="2101.1" font-size="28.5" text-anchor="middle" font-family='"Liberation Serif", serif' >&#8211;1.0</text>
<text x="1024.6" y="2101.1" font-size="28.5" text-anchor="middle" font-family='"Liberation Serif", serif' >&#8211;0.5</text>
<text x="1155.7" y="2101.1" font-size="28.5" text-anchor="middle" font-family='"Liberation Serif", serif' >0.0</text>
<text x="85.9" y="2067.1" font-size="28.5" text-anchor="end" font-family='"Liberation Serif", serif' >0.0</text>
<text x="85.9" y="2011.45" font-size="28.5" text-anchor="end" font-family='"Liberation Serif", serif' >0.5</text>
<text x="85.9" y="1955.8" font-size="28.5" text-anchor="end" font-family='"Liberation Serif", serif' >1.0</text>
<text x="85.9" y="1900.15" font-size="28.5" text-anchor="end" font-family='"Liberation Serif", serif' >1.5</text>
<text x="85.9" y="1844.5" font-size="28.5" text-anchor="end" font-family='"Liberation Serif", serif' >2.0</text>
<text x="85.9" y="1788.85" font-size="28.5" text-anchor="end" font-family='"Liberation Serif", serif' >2.5</text>
<text x="85.9" y="1733.2" font-size="28.5" text-anchor="end" font-family='"Liberation Serif", serif' >3.0</text>
<text x="85.9" y="1677.55" font-size="28.5" text-anchor="end" font-family='"Liberation Serif", serif' >3.5</text>
<text x="85.9" y="1621.9" font-size="28.5" text-anchor="end" font-family='"Liberation Serif", serif' >4.0</text>
<text x="85.9" y="1566.25" font-size="28.5" text-anchor="end" font-family='"Liberation Serif", serif' >4.5</text>
<text x="85.9" y="1510.6" font-size="28.5" text-anchor="end" font-family='"Liberation Serif", serif' >5.0</text>
<line x1="117.2" y1="1529.3" x2="183.7" y2="1529.3" stroke="#000" stroke-width="2.5" />
<line x1="117.2" y1="1565.8" x2="183.7" y2="1565.8" stroke="#ff0000" stroke-width="2.7" stroke-dasharray="11.5 15.5"/>
<text x="191.8" y="1539.7" font-size="28.5" text-anchor="start" font-family='"Liberation Serif", serif' textLength="245" lengthAdjust="spacingAndGlyphs" >Rotor Speed Strategy</text>
<text x="191.8" y="1575.3" font-size="28.5" text-anchor="start" font-family='"Liberation Serif", serif' textLength="197.5" lengthAdjust="spacingAndGlyphs" >Original Strategy</text>
<text x="562.3" y="1541.2" font-size="28.5" text-anchor="start" font-family='"Liberation Serif", serif' textLength="109.5" lengthAdjust="spacingAndGlyphs" >LEVEL 1</text>
<text x="746.3" y="1531.7" font-size="28.5" text-anchor="start" font-family='"Liberation Serif", serif' textLength="110.5" lengthAdjust="spacingAndGlyphs" >LEVEL 2</text>
<text x="605.4" y="2132.4" font-size="28.5" text-anchor="start" font-family='"Liberation Serif", serif' textLength="76.5" lengthAdjust="spacingAndGlyphs" >&#956; (1/s)</text>
<text x="426.5" y="2178.2" font-size="28.5" text-anchor="start" font-family='"Liberation Serif", serif' textLength="145.5" lengthAdjust="spacing" >Short Period</text>
<text x="584.6" y="2178.2" font-size="28.5" text-anchor="start" font-family='"Liberation Serif", serif' textLength="278.5" lengthAdjust="spacing" >Pitch Mode Eigenvalue</text>
<g transform="translate(26.6 1819) rotate(-90)">
<text x="0" y="0" font-size="29" font-family='"Liberation Serif", serif' textLength="21.2" lengthAdjust="spacingAndGlyphs">&#969;</text>
<text x="20.5" y="8.4" font-size="20.5" font-family='"Liberation Serif", serif' textLength="17.2" lengthAdjust="spacingAndGlyphs">dr</text>
<text x="45" y="0" font-size="29" font-family='"Liberation Serif", serif' textLength="75.3" lengthAdjust="spacingAndGlyphs">(rad/s)</text>
</g>
<text x="0.7" y="1484.6" font-size="29" text-anchor="start" font-family='"Liberation Sans", sans-serif' textLength="33.4" lengthAdjust="spacingAndGlyphs" >(c)</text>
</svg></body></html>
